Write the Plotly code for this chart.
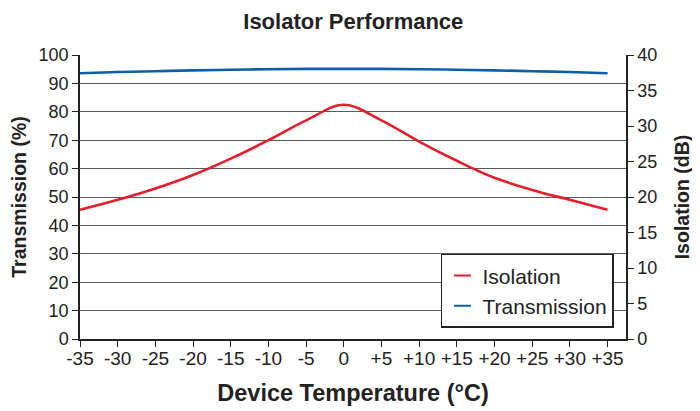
import plotly.graph_objects as go

temps = [-35, -30, -25, -20, -15, -10, -5, 0, 5, 10, 15, 20, 25, 30, 35]
isolation_db = [18.2, 19.6, 21.2, 23.1, 25.4, 28.0, 30.8, 33.0, 30.8, 27.8, 25.1, 22.7, 21.0, 19.6, 18.2]
transmission_pct = [93.6, 94.0, 94.3, 94.6, 94.8, 95.0, 95.1, 95.1, 95.1, 95.0, 94.8, 94.6, 94.3, 94.0, 93.6]

x_tick_vals = [-35, -30, -25, -20, -15, -10, -5, 0, 5, 10, 15, 20, 25, 30, 35]
x_tick_text = ["-35", "-30", "-25", "-20", "-15", "-10", "-5", "0", "+5", "+10", "+15", "+20", "+25", "+30", "+35"]

RED = "#e41f2b"
BLUE = "#0b5ea8"
FONT = "Liberation Sans, Arial, sans-serif"
INK = "#222"

fig = go.Figure()
fig.add_trace(go.Scatter(x=temps, y=transmission_pct, mode="lines", name="Transmission",
                         line=dict(color=BLUE, width=2.6, shape="spline"), showlegend=False))
fig.add_trace(go.Scatter(x=temps, y=isolation_db, mode="lines", name="Isolation", yaxis="y2",
                         line=dict(color=RED, width=2.6, shape="spline"), showlegend=False))
# legend entries (short line samples)
fig.add_trace(go.Scatter(x=[None], y=[None], mode="markers", name="Isolation",
                         marker=dict(symbol="line-ew", size=18, color=RED, line=dict(color=RED, width=2.6))))
fig.add_trace(go.Scatter(x=[None], y=[None], mode="markers", name="Transmission",
                         marker=dict(symbol="line-ew", size=18, color=BLUE, line=dict(color=BLUE, width=2.6))))

fig.update_layout(
    width=692, height=403,
    margin=dict(l=72, r=74, t=47, b=72, autoexpand=False),
    paper_bgcolor="white", plot_bgcolor="white",
    font=dict(family=FONT, size=15, color=INK),
    title=dict(text="<b>Isolator Performance</b>", x=0.499, xanchor="center", y=0.968, yanchor="middle",
               font=dict(family=FONT, size=22, color=INK)),
    xaxis=dict(range=[-35, 37.45], tickvals=x_tick_vals, ticktext=x_tick_text, automargin=False,
               showgrid=False, zeroline=False, showline=True, linecolor=INK, linewidth=1.5,
               ticks="outside", ticklen=6, tickcolor=INK, tickwidth=1, ticklabelstandoff=-5,
               tickfont=dict(family=FONT, size=19, color=INK),
               title=dict(text="<b>Device Temperature (°C)</b>", standoff=17,
                          font=dict(family=FONT, size=23.5, color=INK))),
    yaxis=dict(range=[0, 100], dtick=10, showgrid=True, gridcolor="#5a5a5a", gridwidth=1.4, automargin=False,
               zeroline=False, showline=True, linecolor=INK, linewidth=1.5,
               ticks="outside", ticklen=6, tickcolor=INK,
               tickfont=dict(family=FONT, size=18, color=INK),
               title=dict(text="<b>Transmission (%)</b>", standoff=12,
                          font=dict(family=FONT, size=19.5, color=INK))),
    yaxis2=dict(range=[0, 40], dtick=5, overlaying="y", side="right", showgrid=False, automargin=False,
                zeroline=False, showline=True, linecolor=INK, linewidth=1.5,
                ticks="outside", ticklen=6, tickcolor=INK,
                tickfont=dict(family=FONT, size=18, color=INK),
                title=dict(text="<b>Isolation (dB)</b>", standoff=19,
                           font=dict(family=FONT, size=19.5, color=INK))),
    legend=dict(x=0.978, xanchor="right", y=0.039, yanchor="bottom",
                bgcolor="white", bordercolor=INK, borderwidth=1.5,
                font=dict(family=FONT, size=21, color=INK),
                itemsizing="constant", tracegroupgap=0),
)

fig.write_html("out.html")
